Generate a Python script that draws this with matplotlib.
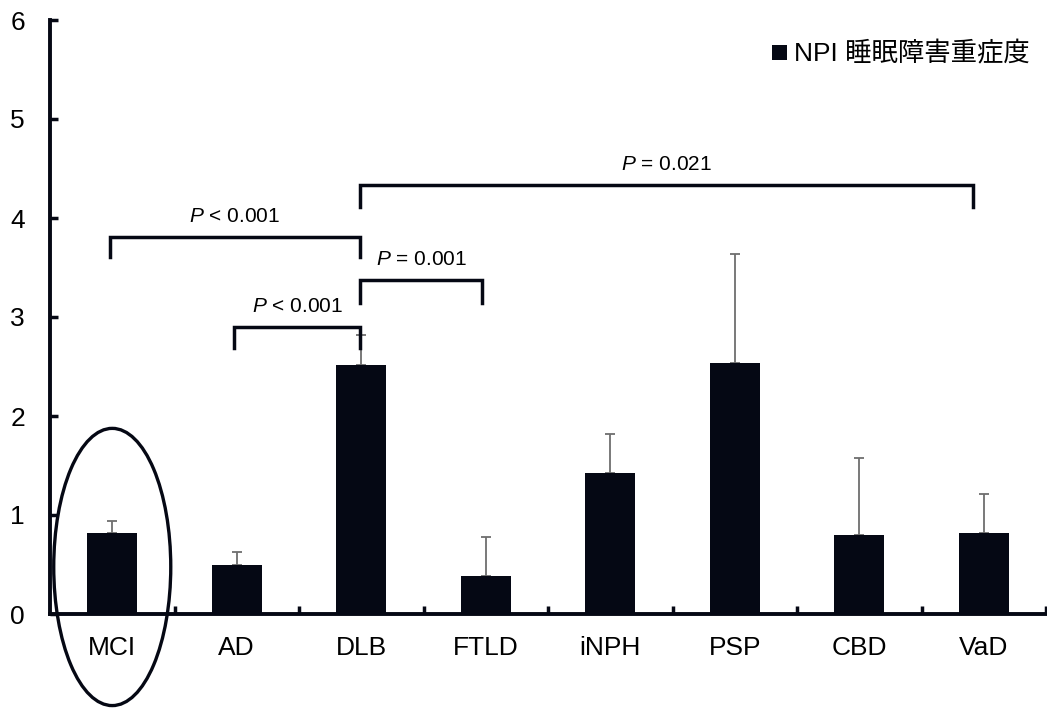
import matplotlib.pyplot as plt
from matplotlib.patches import Ellipse

plt.rcParams['font.family'] = ['Liberation Sans', 'Noto Sans CJK JP', 'DejaVu Sans']
plt.rcParams['mathtext.fontset'] = 'custom'
plt.rcParams['mathtext.it'] = 'Liberation Sans:italic'
plt.rcParams['mathtext.rm'] = 'Liberation Sans'

categories = ['MCI', 'AD', 'DLB', 'FTLD', 'iNPH', 'PSP', 'CBD', 'VaD']
means = [0.82, 0.50, 2.52, 0.38, 1.42, 2.54, 0.80, 0.82]
sd_upper = [0.12, 0.13, 0.30, 0.40, 0.40, 1.10, 0.78, 0.39]
series_name = 'NPI 睡眠障害重症度'

# brackets: (left x, right x, y of bar, y of leg bottom, label)
brackets = [
    (-0.02, 1.99, 3.81, 3.61, '< 0.001'),
    (0.98, 1.99, 2.90, 2.69, '< 0.001'),
    (1.99, 2.97, 3.37, 3.14, '= 0.001'),
    (1.99, 6.91, 4.33, 4.11, '= 0.021'),
]

bar_color = '#050814'

fig = plt.figure(figsize=(10.47, 7.1), dpi=100)
ax = fig.add_axes([50 / 1047, 1 - 614 / 710, 996 / 1047, 594 / 710])

x = range(len(categories))
ax.bar(x, means, width=0.4, color=bar_color, label=series_name, zorder=3,
       yerr=[[0] * len(means), sd_upper], ecolor='#6e6e6e',
       error_kw=dict(elinewidth=1.3, capsize=3.5, capthick=1.3, zorder=2))

ax.set_xlim(-0.5, len(categories) - 0.5)
ax.set_ylim(0, 6)
ax.set_yticks(range(7))
ax.set_xticks(list(x))
ax.set_xticklabels(categories, fontsize=19)
ax.set_xticks([i + 0.5 for i in range(len(categories))], minor=True)
ax.tick_params(axis='x', which='major', length=0, pad=16)
ax.tick_params(axis='x', which='minor', direction='in', length=6, width=2.5, color=bar_color)
ax.tick_params(axis='y', direction='in', length=6, width=2.5, labelsize=19, pad=18, color=bar_color)

for s in ['top', 'right']:
    ax.spines[s].set_visible(False)
for s in ['left', 'bottom']:
    ax.spines[s].set_linewidth(2.8)
    ax.spines[s].set_color(bar_color)

for x0, x1, yb, yl, lab in brackets:
    ax.plot([x0, x0, x1, x1], [yl, yb, yb, yl], color=bar_color, lw=2.5,
            solid_joinstyle='miter', clip_on=False)
    ax.text((x0 + x1) / 2, yb + 0.11, '$P$ ' + lab, ha='center', va='bottom', fontsize=15)

ax.add_patch(Ellipse((0, 0.475), 0.94, 2.8, fill=False, lw=2.4,
                     edgecolor=bar_color, clip_on=False, zorder=4))

ax.legend(loc='upper right', frameon=False, fontsize=19, handlelength=0.55,
          handleheight=0.55, handletextpad=0.3, borderaxespad=0.2,
          bbox_to_anchor=(1.0, 0.99))

fig.savefig('out.png', dpi=100)
